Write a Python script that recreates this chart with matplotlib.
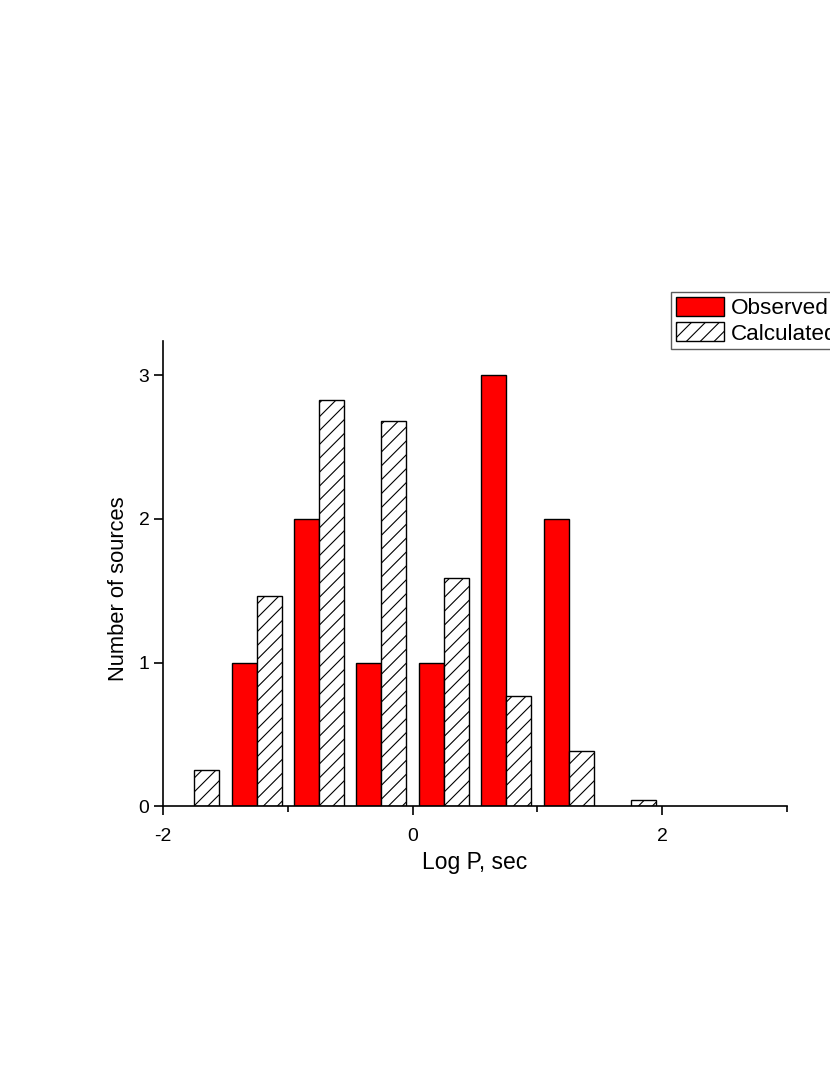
import numpy as np
import matplotlib
matplotlib.use("Agg")
import matplotlib.pyplot as plt
from matplotlib.ticker import MultipleLocator

# render at 125 dpi so the hatch spacing matches; sizes below are scaled back
DPI = 125
K = 100 / DPI

plt.rcParams['font.family'] = ['Liberation Sans', 'DejaVu Sans']
plt.rcParams['hatch.linewidth'] = 0.8 * K
plt.rcParams['axes.unicode_minus'] = False

# observed counts, bar centres
obs_x = [-1.35, -0.85, -0.35, 0.15, 0.65, 1.15]
obs_n = [1, 2, 1, 1, 3, 2]

# calculated distribution
calc_x = [-1.65, -1.15, -0.65, -0.15, 0.35, 0.85, 1.35, 1.85]
calc_n = [0.25, 1.46, 2.83, 2.68, 1.59, 0.77, 0.38, 0.04]

bar_w = 0.2

fig = plt.figure(figsize=(830 / DPI, 1075 / DPI), dpi=DPI)
ax = fig.add_axes([0.1964, 0.2502, 0.7518, 0.4326])

ax.bar(obs_x, obs_n, width=bar_w, color='#ff0000', edgecolor='black',
       linewidth=1.0 * K, label='Observed')
ax.bar(calc_x, calc_n, width=bar_w, color='white', edgecolor='black',
       linewidth=1.0 * K, hatch='///', label='Calculated')

ax.set_xlim(-2, 3)
ax.set_ylim(0, 3.24)
ax.xaxis.set_major_locator(MultipleLocator(2))
ax.xaxis.set_minor_locator(MultipleLocator(1))
ax.yaxis.set_major_locator(MultipleLocator(1))

ax.spines['top'].set_visible(False)
ax.spines['right'].set_visible(False)
for s in ['left', 'bottom']:
    ax.spines[s].set_linewidth(1.2 * K)

ax.tick_params(axis='both', which='major', direction='out', length=6.8 * K,
               width=1.2 * K, labelsize=14 * K)
ax.tick_params(axis='x', which='major', pad=9 * K)
ax.tick_params(axis='y', which='major', pad=3 * K)
ax.tick_params(axis='x', which='minor', direction='out', length=4 * K, width=1.2 * K)

ax.set_xlabel('Log P, sec', fontsize=16.5 * K, labelpad=4 * K)
ax.set_ylabel('Number of sources', fontsize=15.8 * K, labelpad=7 * K)
ax.yaxis.label.set_y(0.467)

leg = fig.legend(loc='upper left', bbox_to_anchor=(671 / 830, 1 - 292 / 1075),
                 bbox_transform=fig.transFigure, fontsize=16.2 * K, frameon=True,
                 fancybox=False, borderaxespad=0, borderpad=0.22,
                 handlelength=2.15, handleheight=0.9, handletextpad=0.3,
                 labelspacing=0.15)
leg.get_frame().set_edgecolor('#333333')
leg.get_frame().set_linewidth(1.0 * K)

fig.savefig('out.png', dpi=DPI)
